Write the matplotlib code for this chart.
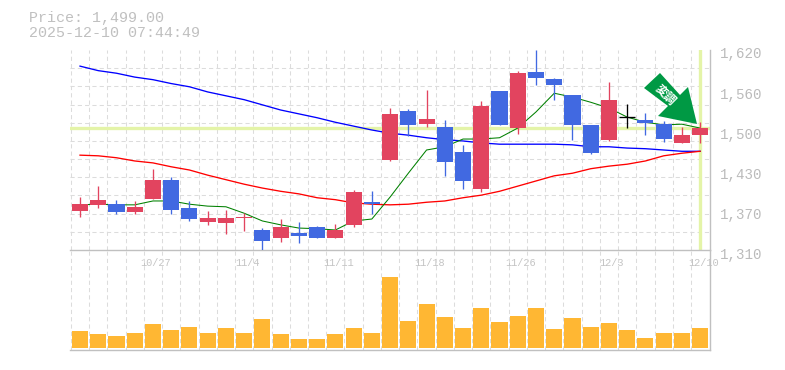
import numpy as np
import matplotlib
matplotlib.use('Agg')
import matplotlib.pyplot as plt
from matplotlib.patches import Polygon
from matplotlib.transforms import ScaledTranslation

# price data, one entry per session
opens = [1370,1380,1381,1369,1389,1419,1375,1353,1352,1360,1341,1329,1336,1346,1329,1349,1384,1450,
         1525,1505,1501,1462,1405,1556,1499,1586,1575,1550,1504,1480,1516,1511,1505,1476,1488]
closes = [1381,1388,1369,1377,1419,1372,1358,1360,1360,1361,1324,1346,1332,1329,1341,1400,1381,1521,
          1504,1513,1446,1417,1533,1504,1584,1577,1566,1504,1460,1542,1516,1507,1482,1488,1499]
highs = [1392,1409,1388,1386,1436,1423,1386,1370,1372,1367,1344,1358,1353,1347,1350,1403,1401,1530,
         1529,1558,1512,1473,1541,1556,1587,1620,1577,1550,1504,1570,1536,1522,1510,1501,1508]
lows = [1361,1375,1366,1366,1389,1366,1355,1349,1335,1339,1310,1322,1321,1329,1329,1346,1366,1448,
        1487,1501,1425,1405,1400,1504,1490,1566,1543,1480,1459,1479,1499,1488,1477,1476,1476]
ma_short = [1380,1381,1380,1380,1386,1386,1381,1378,1377,1367,1355,1349,1344,1343,1341,1355,1358,1392,
            1429,1465,1470,1482,1482,1484,1499,1524,1553,1547,1539,1530,1516,1508,1504,1505,1499]
ma_mid = [1457,1456,1453,1448,1445,1439,1434,1426,1419,1412,1406,1401,1397,1391,1388,1383,1381,1380,
          1381,1384,1386,1391,1395,1401,1409,1417,1425,1429,1436,1440,1443,1448,1456,1460,1463]
ma_long = [1595,1588,1584,1578,1574,1568,1563,1555,1549,1543,1535,1527,1521,1515,1508,1502,1496,1491,
           1488,1484,1481,1479,1476,1474,1474,1474,1474,1473,1470,1470,1468,1467,1465,1463,1463]
volumes = [17,14,12,15,24,18,21,15,20,15,29,14,9,9,14,20,15,71,
           27,44,31,20,40,26,32,40,19,30,21,25,18,10,15,15,20]
last_price = 1499

price_ticks = [1620,1558,1496,1434,1372,1310]
price_labels = ['1,620','1,560','1,500','1,430','1,370','1,310']
date_pos = [4,9,14,19,24,29,34]
date_labels = ['10/27','11/4','11/11','11/18','11/26','12/3','12/10']

W,H = 785,370
UP,DOWN = '#e2445f','#4169e1'
GRID = '#dcdcdc'
FRAME = '#c0c0c0'
BAND = '#e4f4a8'
MONO = 'Liberation Mono'

fig = plt.figure(figsize=(W/100,H/100),dpi=100)
ax1 = fig.add_axes([70/W,1-250/H,640/W,200/H])
ax2 = fig.add_axes([70/W,1-350/H,640/W,100/H])
ax2.patch.set_visible(False)

n = len(closes)
x = np.arange(n)
xlim = (-10/18.24,630/18.24)
dash = (0,(4,3))

for ax in (ax1,ax2):
    ax.set_xlim(xlim)
    ax.set_xticks(x[:-1]+0.5,minor=True)
    ax.grid(True,which='minor',axis='x',color=GRID,lw=0.75,linestyle=dash)
    ax.set_axisbelow(True)
    ax.tick_params(which='both',length=0)
    for s in ('top','left'):
        ax.spines[s].set_visible(False)
    for s in ('bottom','right'):
        ax.spines[s].set_color(FRAME)
        ax.spines[s].set_linewidth(1.0)
    # left edge of the grid
    ax.axvline(-0.5,color=GRID,lw=0.75,linestyle=dash,zorder=0.5)

# price panel
ax1.set_ylim(1310,1620)
ax1.set_yticks(np.linspace(1310,1620,12),minor=True)
ax1.grid(True,which='minor',axis='y',color=GRID,lw=0.75,linestyle=dash)
ax1.axhline(last_price,color=BAND,lw=2.4,zorder=1,xmax=0.997)
ax1.axvline(x[-1],color=BAND,lw=2.4,zorder=1)
ax1.plot(x,ma_long,color='#0000ff',lw=0.95,zorder=2)
ax1.plot(x,ma_mid,color='#ff0000',lw=0.95,zorder=2)
ax1.plot(x,ma_short,color='#008000',lw=0.75,zorder=2)

colors = [UP if c>o else DOWN if c<o else 'black' for o,c in zip(opens,closes)]
ax1.vlines(x,lows,highs,colors=colors,lw=0.95,zorder=3)
bottoms = np.minimum(opens,closes)
heights = np.abs(np.array(closes)-np.array(opens))
ax1.bar(x,heights,0.88,bottom=bottoms,color=colors,lw=0,zorder=4)
flat = heights==0
ax1.hlines(np.array(closes)[flat],x[flat]-0.44,x[flat]+0.44,colors='black',lw=0.95,zorder=4)

ax1.yaxis.tick_right()
ax1.set_yticks(price_ticks)
ax1.set_yticklabels(price_labels,family=MONO,fontsize=10.2,color='#bbbbbb')
ax1.tick_params(axis='y',which='major',pad=7.5)
off = ScaledTranslation(0,-3/100,fig.dpi_scale_trans)
for t in ax1.get_yticklabels():
    t.set_transform(t.get_transform()+off)

ax1.set_xticks(date_pos)
ax1.set_xticklabels(date_labels,family=MONO,fontsize=7.4,color='#c4c4c4')
ax1.tick_params(axis='x',which='major',pad=5.5)
off = ScaledTranslation(3/100,0,fig.dpi_scale_trans)
for t in ax1.get_xticklabels():
    t.set_transform(t.get_transform()+off)

# volume panel
ax2.set_ylim(-2,98)
ax2.set_yticks([])
ax2.set_xticks([])
ax2.bar(x,volumes,0.88,color='#ffb733',lw=0,zorder=3)

# green badge arrow, given in screen pixels
arrow_px = [(660,73),(680,95),(688,87),(697,124),(658,116),(668,106),(644,88)]
arrow_xy = [(px,H-py) for px,py in arrow_px]
fig.add_artist(Polygon(arrow_xy,closed=True,transform=None,facecolor='#009944',edgecolor='none',zorder=10))
fig.text(665.5/W,1-94.5/H,'変調',family=['Noto Sans CJK JP','DejaVu Sans'],fontweight='bold',fontsize=8.5,
         color='white',rotation=-45,ha='center',va='center',rotation_mode='anchor',zorder=11)

fig.text(29/W,1-18/H,'Price: 1,499.00',family=MONO,fontsize=10.8,color='#c0c0c0',va='center')
fig.text(29/W,1-33/H,'2025-12-10 07:44:49',family=MONO,fontsize=10.8,color='#c0c0c0',va='center')

fig.savefig('out.png',dpi=100)
